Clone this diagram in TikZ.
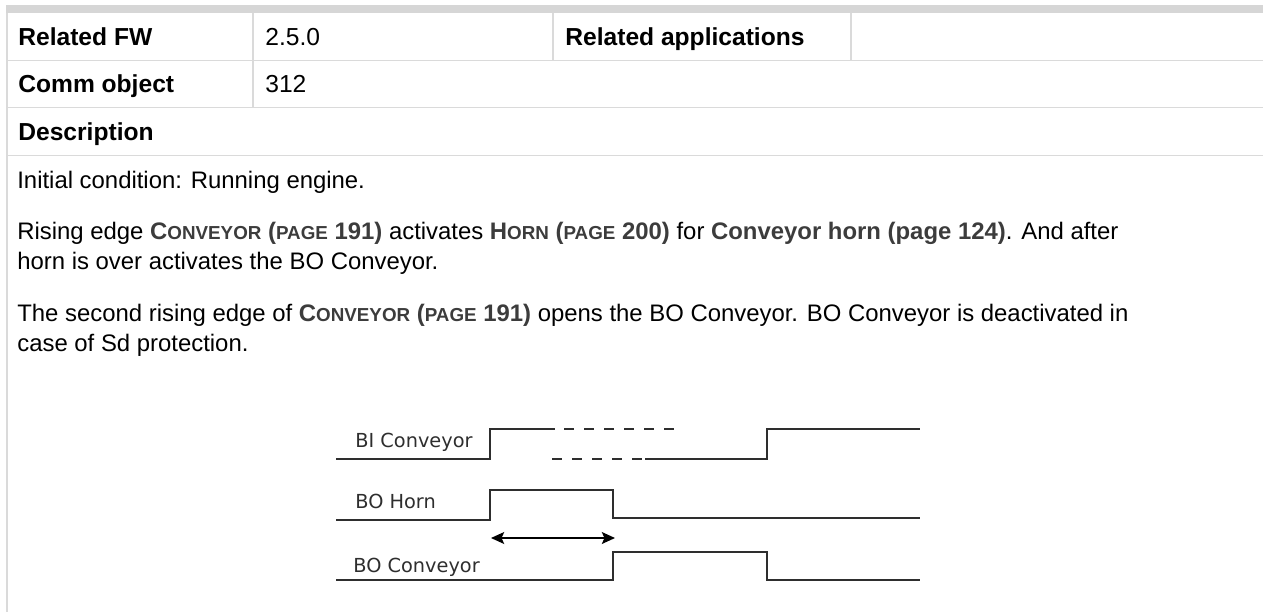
\documentclass[tikz,border=0pt]{standalone}
\usepackage{fontspec}
\setmainfont{Liberation Sans}
\newfontfamily\sigfont{DejaVu Sans}
\usetikzlibrary{arrows.meta,positioning}
\definecolor{gridline}{HTML}{DADADA}
\definecolor{headband}{HTML}{D6D6D6}
\definecolor{linktext}{HTML}{3C3C3C}
\definecolor{wave}{HTML}{2E2E2E}
\newcommand{\lnk}[1]{{\bfseries\color{linktext}#1}}
\newcommand{\smc}[1]{{\fontsize{10.7}{12}\selectfont #1}}

\begin{document}
\begin{tikzpicture}[x=0.02cm,y=-0.02cm,>={Stealth[length=7.5pt,width=6.8pt,inset=1.5pt]},
 font=\fontsize{13.6}{16}\selectfont,
 grid/.style={draw=gridline,line width=0.9pt},
 cell/.style={anchor=base west,inner sep=0pt,font=\fontsize{14}{16}\selectfont},
 key/.style={cell,font=\bfseries\fontsize{14}{16}\selectfont},
 body/.style={anchor=base west,inner sep=0pt},
 sig/.style={wave,line width=0.85pt},
 gap/.style={sig,dash pattern=on 5.7pt off 5.7pt},
 siglabel/.style={anchor=base west,inner sep=0pt,text=wave,font=\sigfont\fontsize{11}{13}\selectfont}]
\useasboundingbox (0,0) rectangle (1263,612);
\fill[headband] (6,5) rectangle (1263,13);
\draw[grid] (7,13)--(7,612);
\draw[grid] (7,60.5)--(1263,60.5) (7,107.5)--(1263,107.5) (7,155.5)--(1263,155.5);
\draw[grid] (253,13)--(253,107.5) (553,13)--(553,60.5) (851,13)--(851,60.5);
\node[key] (fwkey) at (18,45) {Related FW};
\node[cell] (fwval) at (265,45) {2.5.0};
\node[key] (appkey) at (565,45) {Related applications};
\node[key] (objkey) at (18,92) {Comm object};
\node[cell] (objval) at (265,92) {312};
\node[key] (desckey) at (18,140) {Description};
\node[body] (init) at (17,188) {Initial condition: Running engine.};
\node[body] (rise) at (17,239) {Rising edge \lnk{C\smc{ONVEYOR} (\smc{PAGE} 191)} activates \lnk{H\smc{ORN} (\smc{PAGE} 200)} for \lnk{Conveyor horn (page 124)}. And after};
\node[body] (over) at (17,269) {horn is over activates the BO Conveyor.};
\node[body] (second) at (17,321) {The second rising edge of \lnk{C\smc{ONVEYOR} (\smc{PAGE} 191)} opens the BO Conveyor. BO Conveyor is deactivated in};
\node[body] (sd) at (17,351) {case of Sd protection.};
\node[siglabel] (bilab) at (355,447) {BI Conveyor};
\node[siglabel] (hornlab) at (355,508) {BO Horn};
\node[siglabel] (bolab) at (353,572) {BO Conveyor};
\draw[sig] (336,459)--(490,459)--(490,429)--(555,429);
\draw[gap] (564,429)--(674,429);
\draw[gap] (552,459)--(642,459);
\draw[sig] (645,459)--(767,459)--(767,429)--(920,429);
\draw[sig] (336,520)--(490,520)--(490,490)--(613,490)--(613,518)--(920,518);
\draw[sig] (336,580)--(613,580)--(613,552)--(767,552)--(767,580)--(920,580);
\coordinate (hornon) at (491,538);
\coordinate (hornoff) at (615,538);
\draw[<->,line width=0.8pt] (hornon)--(hornoff);
\end{tikzpicture}
\end{document}
